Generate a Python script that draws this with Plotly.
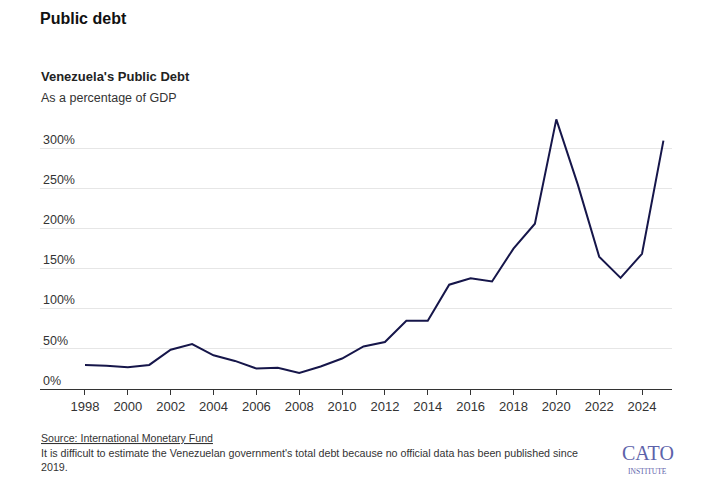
import plotly.graph_objects as go

years = list(range(1998, 2026))
debt_pct = [30, 29, 27, 30, 49, 56, 42, 35, 25.5, 26.5, 20, 28, 38, 53, 58.5, 85, 85,
            130, 138, 134, 175, 206, 336, 255, 165, 138.5, 168.5, 309.5]
y_ticks = [0, 50, 100, 150, 200, 250, 300]
y_tick_labels = ["0%", "50%", "100%", "150%", "200%", "250%", "300%"]
x_ticks = list(range(1998, 2026, 2))

OFF = 8  # page body margin
W, H = 715 - OFF, 489 - OFF
L, R, T, B = 40 - OFF, 672 - OFF, 115 - OFF, 389.3 - OFF

def px(x, y):
    x -= OFF
    y -= OFF
    return (x - L) / (R - L), (B - y) / (B - T)

fig = go.Figure()
fig.add_trace(go.Scatter(x=years, y=debt_pct, mode="lines",
                         line=dict(color="#16164a", width=2), hoverinfo="x+y"))

font = "Liberation Sans, Arial, sans-serif"
narrow = "Liberation Sans Narrow, Liberation Sans, Arial, sans-serif"
serif = "Liberation Serif, DejaVu Serif, serif"
anns = []
def ann(text, x, y, size, color="#222", bold=False, xanchor="left", family=font):
    fx, fy = px(x, y)
    anns.append(dict(text=f"<b>{text}</b>" if bold else text, x=fx, y=fy, xref="paper", yref="paper",
                     xanchor=xanchor, yanchor="middle", showarrow=False,
                     font=dict(size=size, color=color, family=family)))

ann("Public debt", 38, 18, 16, "#111", True)
ann("Venezuela's Public Debt", 39, 76, 13, "#222", True)
ann("As a percentage of GDP", 39, 98, 12.5, "#333")
ann("<u>Source: International Monetary Fund</u>", 39, 438, 10.6, "#333", family=narrow)
anns.append(dict(text="It is difficult to estimate the Venezuelan government's total debt because no official data has been published since<br>2019.",
                 x=px(39, 0)[0], y=px(0, 445)[1], xref="paper", yref="paper", xanchor="left", yanchor="top",
                 align="left", showarrow=False,
                 font=dict(size=10.7, color="#333", family=narrow)))
ann("CATO", 647.5, 453, 20, "#5d62aa", xanchor="center", family=serif)
ann("INSTITUTE", 647.5, 471.5, 7.5, "#5d62aa", xanchor="center", family=serif)

fig.update_layout(
    width=W, height=H,
    margin=dict(l=L, r=W - R, t=T, b=H - B, pad=0),
    paper_bgcolor="white", plot_bgcolor="white",
    showlegend=False,
    annotations=anns,
    xaxis=dict(range=[1995.9, 2025.4], tickvals=x_ticks, showgrid=False, zeroline=False,
               showline=True, linecolor="#333", linewidth=1, ticks="outside", ticklen=5,
               tickcolor="#333", tickfont=dict(size=13, color="#333", family=font), fixedrange=True),
    yaxis=dict(range=[0, 341.5], tickvals=y_ticks, ticktext=y_tick_labels, showgrid=True,
               gridcolor="#e6e6e6", gridwidth=1, zeroline=False, showline=False,
               ticklabelposition="inside top", ticks="",
               tickfont=dict(size=12.5, color="#333", family=font), fixedrange=True),
)

fig.write_html("out.html")
